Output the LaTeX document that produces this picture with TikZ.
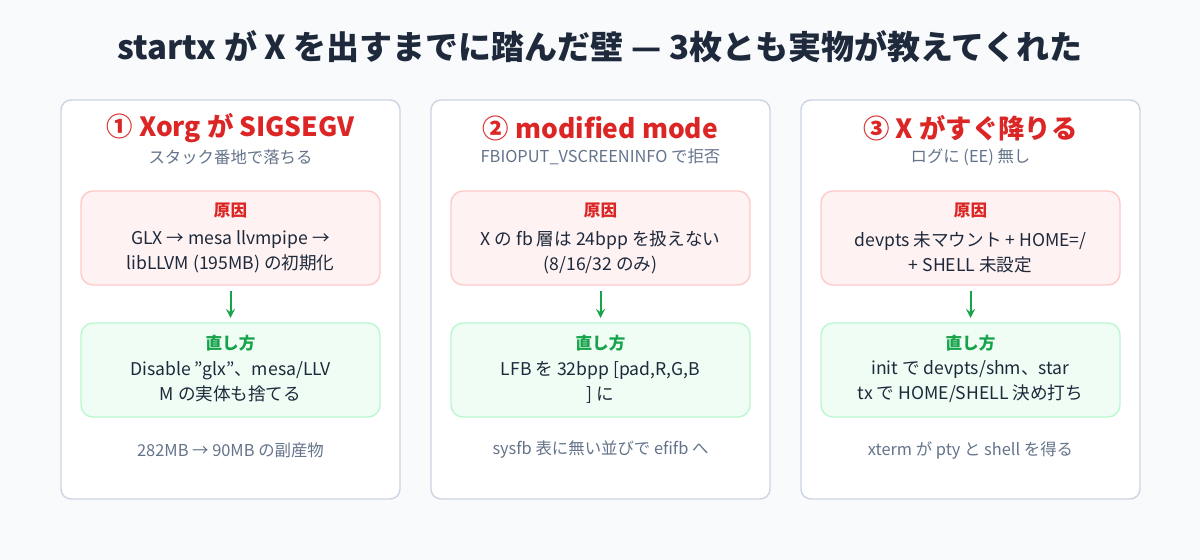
\documentclass[tikz,border=0pt]{standalone}
\usepackage{fontspec}
\setmainfont{Noto Sans CJK JP}
\usetikzlibrary{positioning}
\definecolor{bg}{HTML}{F8FAFC}
\definecolor{cardline}{HTML}{CBD5E1}
\definecolor{ink}{HTML}{1E293B}
\definecolor{gray}{HTML}{64748B}
\definecolor{redc}{HTML}{DC2626}
\definecolor{redfill}{HTML}{FEF2F2}
\definecolor{redline}{HTML}{FECACA}
\definecolor{grn}{HTML}{16A34A}
\definecolor{grnfill}{HTML}{F0FDF4}
\definecolor{grnline}{HTML}{BBF7D0}
\begin{document}
\begin{tikzpicture}[x=0.5pt,y=-0.5pt,
    card/.style={draw=cardline,line width=0.7pt,fill=white,rounded corners=5pt},
    cause/.style={draw=redline,line width=0.7pt,fill=redfill,rounded corners=6pt},
    fix/.style={draw=grnline,line width=0.7pt,fill=grnfill,rounded corners=6pt},
    head/.style={text=redc,font=\bfseries\fontsize{13.2}{15}\selectfont},
    sub/.style={text=gray,font=\fontsize{8.2}{9}\selectfont},
    boxttl/.style={font=\bfseries\fontsize{8.3}{9}\selectfont},
    body/.style={text=ink,font=\fontsize{8.8}{12.5}\selectfont,align=center},
    foot/.style={text=gray,font=\fontsize{8.2}{9}\selectfont},
    fixarrow/.style={->,>=stealth,draw=grn,line width=1pt}]

  \fill[bg] (0,0) rectangle (1200,560);
  \useasboundingbox (0,0) rectangle (1200,560);

  \node[text=ink,font=\bfseries\fontsize{16.5}{18}\selectfont] (title) at (600,47)
    {startx が X を出すまでに踏んだ壁 — 3枚とも実物が教えてくれた};

  % card 1
  \draw[card] (61,100) rectangle (400,499);
  \node[head] (h1) at (230.5,128) {① Xorg が SIGSEGV};
  \node[sub] (s1) at (230.5,157) {スタック番地で落ちる};
  \draw[cause] (81,191) rectangle (380,285);
  \node[boxttl,text=redc] (c1) at (230.5,211) {原因};
  \node[body] (cb1) at (230.5,252) {GLX → mesa llvmpipe →\\libLLVM (195MB) の初期化};
  \draw[fix] (81,323) rectangle (380,417);
  \node[boxttl,text=grn] (f1) at (230.5,343) {直し方};
  \node[body] (fb1) at (230.5,382) {Disable \symbol{34}glx\symbol{34}、mesa/LLV\\M の実体も捨てる};
  \coordinate (a1) at (230.5,291);
  \coordinate (b1) at (230.5,318);
  \draw[fixarrow] (a1) -- (b1);
  \node[foot] (n1) at (230.5,450) {282MB → 90MB の副産物};

  % card 2
  \draw[card] (431,100) rectangle (770,499);
  \node[head] (h2) at (600.5,128) {② modified mode};
  \node[sub] (s2) at (600.5,157) {FBIOPUT\_VSCREENINFO で拒否};
  \draw[cause] (451,191) rectangle (750,285);
  \node[boxttl,text=redc] (c2) at (600.5,211) {原因};
  \node[body] (cb2) at (600.5,252) {X の fb 層は 24bpp を扱えない\\(8/16/32 のみ)};
  \draw[fix] (451,323) rectangle (750,417);
  \node[boxttl,text=grn] (f2) at (600.5,343) {直し方};
  \node[body] (fb2) at (600.5,382) {LFB を 32bpp [pad,R,G,B\\] に};
  \coordinate (a2) at (600.5,291);
  \coordinate (b2) at (600.5,318);
  \draw[fixarrow] (a2) -- (b2);
  \node[foot] (n2) at (600.5,450) {sysfb 表に無い並びで efifb へ};

  % card 3
  \draw[card] (801,100) rectangle (1140,499);
  \node[head] (h3) at (970.5,128) {③ X がすぐ降りる};
  \node[sub] (s3) at (970.5,157) {ログに (EE) 無し};
  \draw[cause] (821,191) rectangle (1120,285);
  \node[boxttl,text=redc] (c3) at (970.5,211) {原因};
  \node[body] (cb3) at (970.5,252) {devpts 未マウント + HOME=/\\+ SHELL 未設定};
  \draw[fix] (821,323) rectangle (1120,417);
  \node[boxttl,text=grn] (f3) at (970.5,343) {直し方};
  \node[body] (fb3) at (970.5,382) {init で devpts/shm、star\\tx で HOME/SHELL 決め打ち};
  \coordinate (a3) at (970.5,291);
  \coordinate (b3) at (970.5,318);
  \draw[fixarrow] (a3) -- (b3);
  \node[foot] (n3) at (970.5,450) {xterm が pty と shell を得る};
\end{tikzpicture}
\end{document}
